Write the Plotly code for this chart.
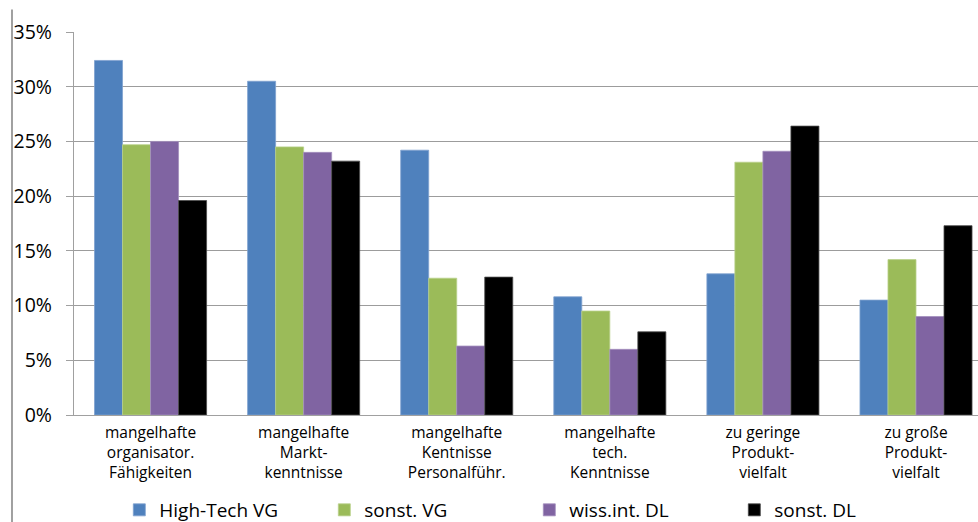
import plotly.graph_objects as go

categories = [
    "mangelhafte<br>organisator.<br>Fähigkeiten",
    "mangelhafte<br>Markt-<br>kenntnisse",
    "mangelhafte<br>Kentnisse<br>Personalführ.",
    "mangelhafte<br>tech.<br>Kenntnisse",
    "zu geringe<br>Produkt-<br>vielfalt",
    "zu große<br>Produkt-<br>vielfalt",
]

high_tech_vg = [0.324, 0.305, 0.242, 0.108, 0.129, 0.105]
sonst_vg = [0.247, 0.245, 0.125, 0.095, 0.231, 0.142]
wiss_int_dl = [0.250, 0.240, 0.063, 0.060, 0.241, 0.090]
sonst_dl = [0.196, 0.232, 0.126, 0.076, 0.264, 0.173]

series = [
    ("High-Tech VG", high_tech_vg, "#4F81BD", "#7FA1CF"),
    ("sonst. VG", sonst_vg, "#9BBB59", "#B9D08A"),
    ("wiss.int. DL", wiss_int_dl, "#8064A2", "#A38FBE"),
    ("sonst. DL", sonst_dl, "#000000", "#4A4A4A"),
]

y_ticks = [0, 0.05, 0.10, 0.15, 0.20, 0.25, 0.30, 0.35]

fig = go.Figure()
for name, vals, color, lcolor in series:
    fig.add_trace(go.Bar(
        name=name, x=categories, y=vals,
        marker=dict(color=color, line=dict(color=lcolor, width=0.8)),
    ))

font_family = "Open Sans, Noto Sans, DejaVu Sans, sans-serif"

fig.update_layout(
    width=978, height=522,
    margin=dict(l=74, r=0, t=32, b=107),
    paper_bgcolor="white", plot_bgcolor="white",
    barmode="group", bargap=0.268, bargroupgap=0,
    font=dict(family=font_family, color="#000000"),
    xaxis=dict(
        range=[-0.5, 5.405],
        showline=True, linecolor="#A0A0A0", linewidth=1.3,
        showgrid=False, ticks="", tickfont=dict(size=15.5),
        ticklabelstandoff=3,
    ),
    yaxis=dict(
        range=[0, 0.35], tickvals=y_ticks, tickformat=".0%",
        showgrid=True, gridcolor="#9C9C9C", gridwidth=1.3,
        showline=True, linecolor="#A0A0A0", linewidth=1.3,
        ticks="outside", ticklen=7, tickcolor="#A0A0A0", tickwidth=1.3,
        tickfont=dict(size=19.5), ticklabelstandoff=10,
        zeroline=False,
    ),
    legend=dict(
        orientation="h", xref="container", yref="container",
        x=0.122, xanchor="left", y=0.023, yanchor="middle",
        font=dict(size=19), traceorder="normal",
        entrywidth=160, entrywidthmode="pixels",
    ),
    shapes=[dict(
        type="line", xref="paper", yref="paper",
        x0=-0.0686, x1=-0.0686, y0=1.0588, y1=-0.3,
        line=dict(color="#A0A0A0", width=2),
    )],
)

fig.write_html(
    "out.html",
    config={"displayModeBar": False},
    post_script="document.body.style.margin='0';document.body.style.overflow='hidden';",
)
